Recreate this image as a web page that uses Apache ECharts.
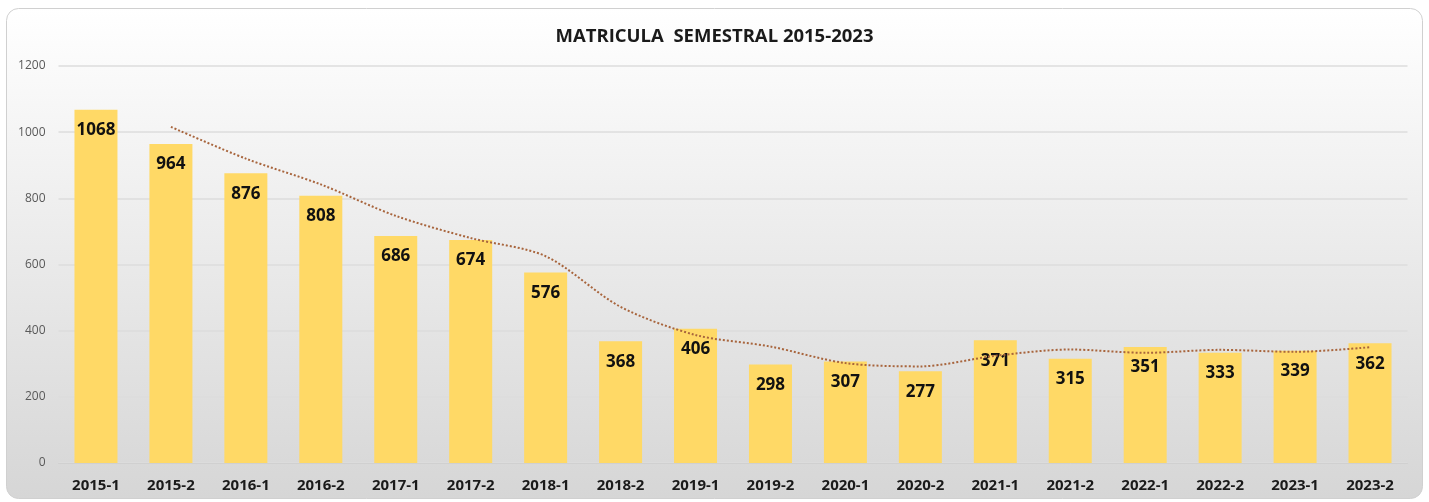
<!DOCTYPE html>
<html>
<head>
<meta charset="utf-8">
<script src="https://cdn.jsdelivr.net/npm/echarts@6/dist/echarts.min.js"></script>
<style>
  html, body { margin: 0; padding: 0; background: #fff; }
  #chart { width: 1429px; height: 502px; }
</style>
</head>
<body>
<div id="chart"></div>
<script>
var semesters = ['2015-1', '2015-2', '2016-1', '2016-2', '2017-1', '2017-2', '2018-1', '2018-2', '2019-1',
    '2019-2', '2020-1', '2020-2', '2021-1', '2021-2', '2022-1', '2022-2', '2023-1', '2023-2'];
var enrolment = [1068, 964, 876, 808, 686, 674, 576, 368, 406, 298, 307, 277, 371, 315, 351, 333, 339, 362];
// trend line (no point on the first semester)
var trend = ['-', 1016, 920, 842, 747, 680, 625, 472, 387, 352, 302, 292, 324, 343, 333, 342, 336, 350];
var yTicks = [0, 200, 400, 600, 800, 1000, 1200];

var chart = echarts.init(document.getElementById('chart'));

var option = {
    animation: false,
    textStyle: { fontFamily: 'Open Sans' },
    graphic: [
        {
            type: 'rect',
            z: -10,
            shape: { x: 6.5, y: 8.5, width: 1416, height: 490, r: 12 },
            style: {
                fill: new echarts.graphic.LinearGradient(0, 0, 0, 1, [
                    { offset: 0, color: '#ffffff' },
                    { offset: 1, color: '#d6d6d6' }
                ]),
                stroke: '#d0d0d0',
                lineWidth: 1
            }
        }
    ],
    title: {
        text: 'MATRICULA  SEMESTRAL 2015-2023',
        left: 'center',
        top: 22,
        textStyle: { fontSize: 18.5, fontWeight: 'bold', color: '#1a1a1a', fontFamily: 'Open Sans' }
    },
    grid: { left: 58.5, right: 21.5, top: 66, bottom: 39 },
    xAxis: {
        type: 'category',
        data: semesters,
        axisLine: { lineStyle: { color: '#d0d0d0' } },
        axisTick: { show: false },
        axisLabel: { color: '#1a1a1a', fontWeight: 'bold', fontSize: 15, margin: 15 }
    },
    yAxis: {
        type: 'value',
        min: yTicks[0],
        max: yTicks[yTicks.length - 1],
        interval: 200,
        axisLine: { show: false },
        axisTick: { show: false },
        axisLabel: {
            color: '#595959',
            fontSize: 12,
            margin: 13,
            formatter: function (v) { return String(v); }
        },
        splitLine: { lineStyle: { color: '#dddddd', width: 1.5 } }
    },
    series: [
        {
            name: 'Matricula',
            type: 'bar',
            data: enrolment,
            barWidth: 43,
            itemStyle: { color: '#ffd966' },
            label: {
                show: true,
                position: 'insideTop',
                distance: 12,
                color: '#111',
                fontWeight: 'bold',
                fontSize: 17
            }
        },
        {
            name: 'Tendencia',
            type: 'line',
            data: trend,
            smooth: 0.3,
            symbol: 'none',
            z: 5,
            lineStyle: { color: '#a8653d', width: 2, type: [2, 2] }
        }
    ]
};

chart.setOption(option);
</script>
</body>
</html>
